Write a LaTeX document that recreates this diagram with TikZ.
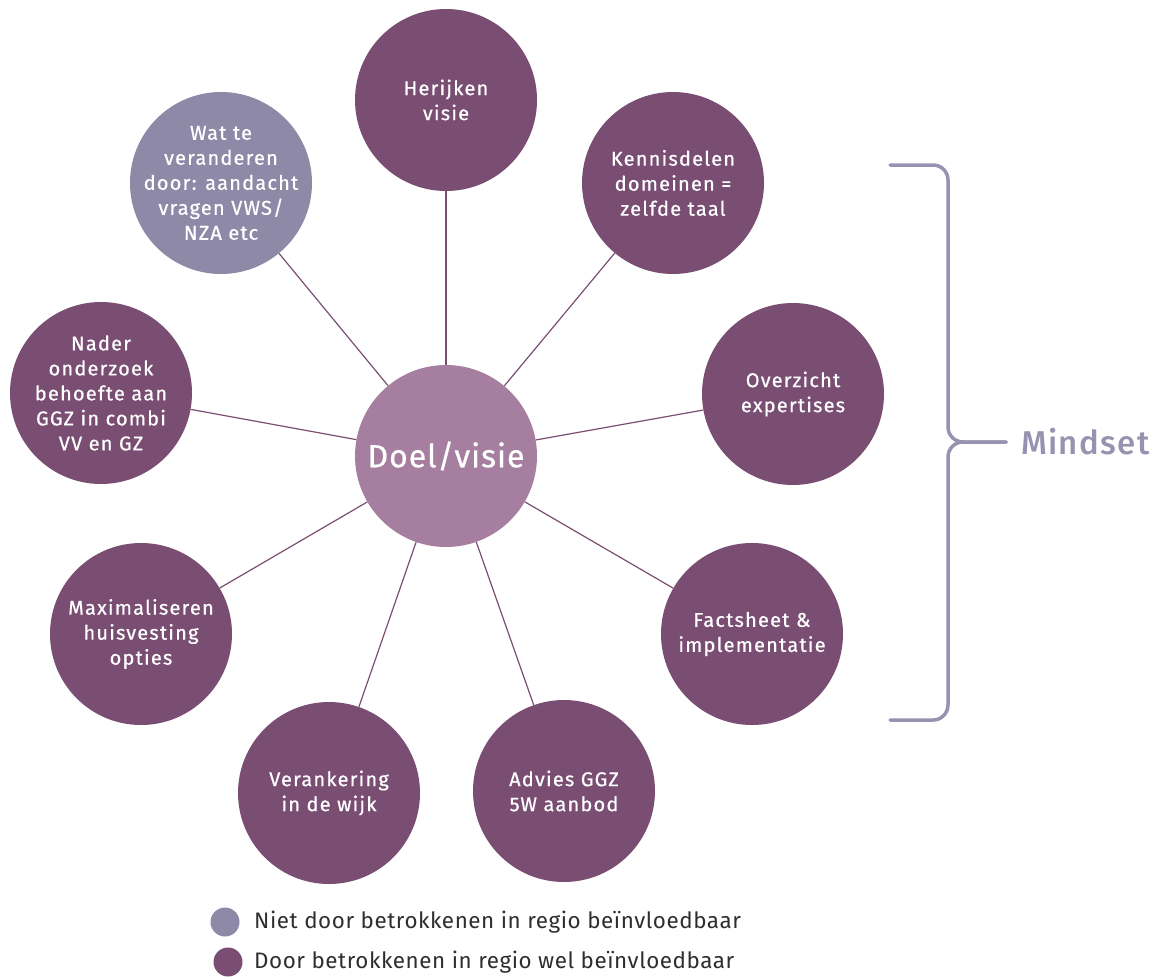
\documentclass[tikz,border=0pt]{standalone}
\usepackage{fontspec}
\setmainfont{Fira Sans}
\newfontfamily\circfont{Fira Sans}[LetterSpace=6, FakeBold=0.6]
\newfontfamily\centfont{Fira Sans}[LetterSpace=3, FakeBold=0.6]
\newfontfamily\legfont{Fira Sans}[LetterSpace=2.5]
\newfontfamily\mindfont{Fira Sans}[UprightFont={* Medium}, LetterSpace=4]
\definecolor{darkp}{HTML}{7A4E73}
\definecolor{midp}{HTML}{A67EA0}
\definecolor{greyp}{HTML}{8F89A8}
\definecolor{bracketc}{HTML}{9892B0}
\definecolor{legtext}{HTML}{2E2E2E}
\tikzset{
  circ/.style={circle, minimum size=182pt, inner sep=-20pt, text=white, align=center,
    font=\circfont\fontsize{20}{25}\selectfont},
  outer/.style={circ, fill=darkp},
  conn/.style={draw=darkp, line width=1.2pt},
  bracketline/.style={draw=bracketc, line width=3.5pt, rounded corners=15pt, line cap=round},
  legdot/.style={circle, minimum size=29pt, inner sep=0pt},
  legtxt/.style={anchor=west, text=legtext, font=\legfont\fontsize{22.4}{26}\selectfont, inner sep=0pt}
}
\begin{document}
\begin{tikzpicture}[x=1pt,y=-1pt]
\useasboundingbox (0,0) rectangle (1164,979);
\node[circ, fill=midp, font=\centfont\fontsize{32}{38}\selectfont] (c) at (446,456) {Doel/visie};
\node[outer] (n1) at (446,100) {Herijken\\visie};
\node[outer] (n2) at (673,183) {Kennisdelen\\domeinen =\\zelfde taal};
\node[outer] (n3) at (793,394) {Overzicht\\expertises};
\node[outer] (n4) at (752,634) {Factsheet \&\\implementatie};
\node[outer] (n5) at (564,791) {Advies GGZ\\5W aanbod};
\node[outer] (n6) at (329,793) {Verankering\\in de wijk};
\node[outer] (n7) at (141,634) {Maximaliseren\\huisvesting\\opties};
\node[outer] (n8) at (101,393) {Nader\\onderzoek\\behoefte aan\\GGZ in combi\\VV en GZ};
\node[circ, fill=greyp] (n9) at (221,183) {Wat te\\veranderen\\door: aandacht\\vragen VWS/\\NZA etc};
\foreach \n in {n1,n2,n3,n4,n5,n6,n7,n8,n9}
  \draw[conn] (c) -- (\n);
% bracket
\coordinate (bt) at (890,165);
\coordinate (bb) at (890,720);
\coordinate (bm) at (948,442);
\coordinate (ba) at (1006,442);
\draw[bracketline] (bt) -- (948,165) -- (bm) -- (ba);
\draw[bracketline] (bb) -- (948,720) -- (bm) -- (ba);
\node[anchor=west, text=bracketc, font=\mindfont\fontsize{33}{36}\selectfont, inner sep=0pt] (mind) at (1021,442) {Mindset};
% legend
\node[legdot, fill=greyp] (l1) at (225,922) {};
\node[legtxt] (t1) at (254,922) {Niet door betrokkenen in regio beïnvloedbaar};
\node[legdot, fill=darkp] (l2) at (228,962) {};
\node[legtxt] (t2) at (254,962) {Door betrokkenen in regio wel beïnvloedbaar};
\end{tikzpicture}
\end{document}
